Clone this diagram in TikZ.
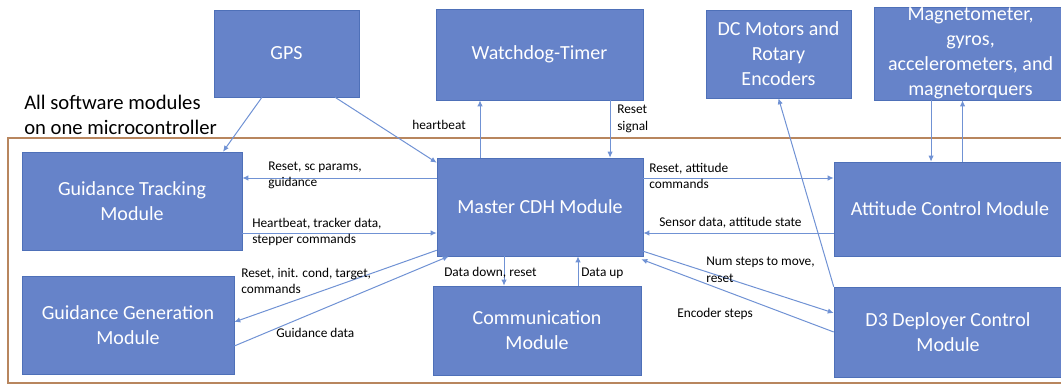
\documentclass[tikz,border=0pt]{standalone}
\usepackage{fontspec}
\setmainfont{Carlito}
\usetikzlibrary{arrows.meta}
\definecolor{modfill}{HTML}{6683C9}
\definecolor{modline}{HTML}{4E70B8}
\definecolor{flowcol}{HTML}{7092D4}
\definecolor{mcuframe}{HTML}{B8865E}
\tikzset {
  >={Latex[length=4.5pt,width=4pt]},
  module/.style={draw=modline,fill=modfill,text=white,align=center,
    font=\fontsize{15}{18.75}\selectfont,inner sep=2pt},
  flow/.style={->,draw=flowcol,line width=0.75pt},
  tag/.style={anchor=west,align=left,font=\fontsize{10}{12.5}\selectfont,inner sep=0pt},
}

\begin{document}
\begin{tikzpicture}[x=0.75pt,y=-0.75pt]
  \useasboundingbox (0,0) rectangle (1061,385);

  % microcontroller frame
  \draw[mcuframe,line width=0.9pt] (8,138) rectangle (1075,383);
  \node[anchor=west,align=left,font=\fontsize{15.5}{18.75}\selectfont,inner sep=0pt]
    (mcu) at (24,114.5) {All software modules\\on one microcontroller};

  % hardware outside the controller
  \node[module,minimum width=108.75pt,minimum height=65.25pt] (gps) at (286.5,53.5) {GPS};
  \node[module,minimum width=155.25pt,minimum height=68.25pt] (wdt) at (539.5,54.5) {Watchdog-Timer};
  \node[module,minimum width=108.75pt,minimum height=66pt] (dcm) at (778.5,54) {DC Motors and\\Rotary\\Encoders};
  \node[module,minimum width=144.75pt,minimum height=69.75pt] (mag) at (970.5,53.5) {};
  \node[align=center,text=white,font=\fontsize{15}{18.75}\selectfont] (magtext) at (mag.center)
    {Magnetometer,\\gyros,\\accelerometers, and\\magnetorquers};

  % software modules
  \node[module,minimum width=165pt,minimum height=73.5pt] (gt) at (132,201) {Guidance Tracking\\Module};
  \node[module,minimum width=154.5pt,minimum height=73.5pt] (cdh) at (540,207) {Master CDH Module};
  \node[module,minimum width=159pt,minimum height=73.5pt] (gg) at (128,325) {Guidance Generation\\Module};
  \node[module,minimum width=156pt,minimum height=66.75pt] (com) at (537,330.5) {Communication\\Module};
  \node[module,minimum width=174pt,minimum height=70.5pt] (acm) at (950,209) {Attitude Control Module};
  \node[module,minimum width=171pt,minimum height=67.5pt] (d3) at (948,332) {D3 Deployer Control\\Module};

  % GPS and watchdog
  \draw[flow] ([xshift=-18.4pt]gps.south) -- ([xshift=68.25pt]gt.north);
  \draw[flow] ([xshift=36.4pt]gps.south) -- ([yshift=-3.75pt]cdh.north west);
  \draw[flow] ([xshift=-45pt]cdh.north) -- ([xshift=-45pt]cdh.north |- wdt.south);
  \draw[flow] ([xshift=52.9pt]wdt.south) -- ([xshift=52.9pt]wdt.south |- cdh.north);
  \node[tag] (hb) at (412,125) {heartbeat};
  \node[tag] (rs) at (617,119) {Reset\\signal};

  % guidance
  \draw[flow] ([yshift=21.75pt]cdh.west) -- ([yshift=21.75pt]cdh.west -| gt.east);
  \draw[flow] ([yshift=-19.5pt]cdh.west -| gt.east) -- ([yshift=-19.5pt]cdh.west);
  \draw[flow] ([yshift=4.5pt]cdh.south west) -- ([yshift=2.25pt]gg.east);
  \draw[flow] ([yshift=-15.75pt]gg.east) -- ([xshift=9pt]cdh.south west);
  \node[tag] (gtin) at (268,175.5) {Reset, sc params,\\guidance};
  \node[tag] (gtout) at (252,232) {Heartbeat, tracker data,\\stepper commands};
  \node[tag] (ggin) at (241,281) {Reset, init. cond, target,\\commands};
  \node[tag] (ggout) at (276,333) {Guidance data};

  % communication
  \draw[flow] ([xshift=-27pt]cdh.south) -- ([xshift=-27pt]cdh.south |- com.north);
  \draw[flow] ([xshift=30.75pt]com.north) -- ([xshift=30.75pt]com.north |- cdh.south);
  \node[tag] (dd) at (444,273) {Data down, reset};
  \node[tag] (du) at (581,273) {Data up};

  % attitude and deployer
  \draw[flow] ([yshift=21.75pt]cdh.east) -- ([yshift=21.75pt]cdh.east -| acm.west);
  \draw[flow] ([yshift=-19.5pt]cdh.east -| acm.west) -- ([yshift=-19.5pt]cdh.east);
  \draw[flow] ([yshift=3.75pt]cdh.south east) -- ([yshift=14.25pt]d3.west);
  \draw[flow] (d3.west) -- ([shift={(-1.5pt,-2.25pt)}]cdh.south east);
  \draw[flow] (d3.north west) -- (dcm.south);
  \draw[flow] ([xshift=-29.6pt]mag.south) -- ([xshift=-29.6pt]mag.south |- acm.north);
  \draw[flow] ([xshift=9.4pt]acm.north) -- ([xshift=9.4pt]acm.north |- mag.south);
  \node[tag] (acin) at (649,176) {Reset, attitude\\commands};
  \node[tag] (acout) at (659,223) {Sensor data, attitude state};
  \node[tag] (d3in) at (706,270) {Num steps to move,\\reset};
  \node[tag] (d3out) at (677,314) {Encoder steps};
\end{tikzpicture}
\end{document}
